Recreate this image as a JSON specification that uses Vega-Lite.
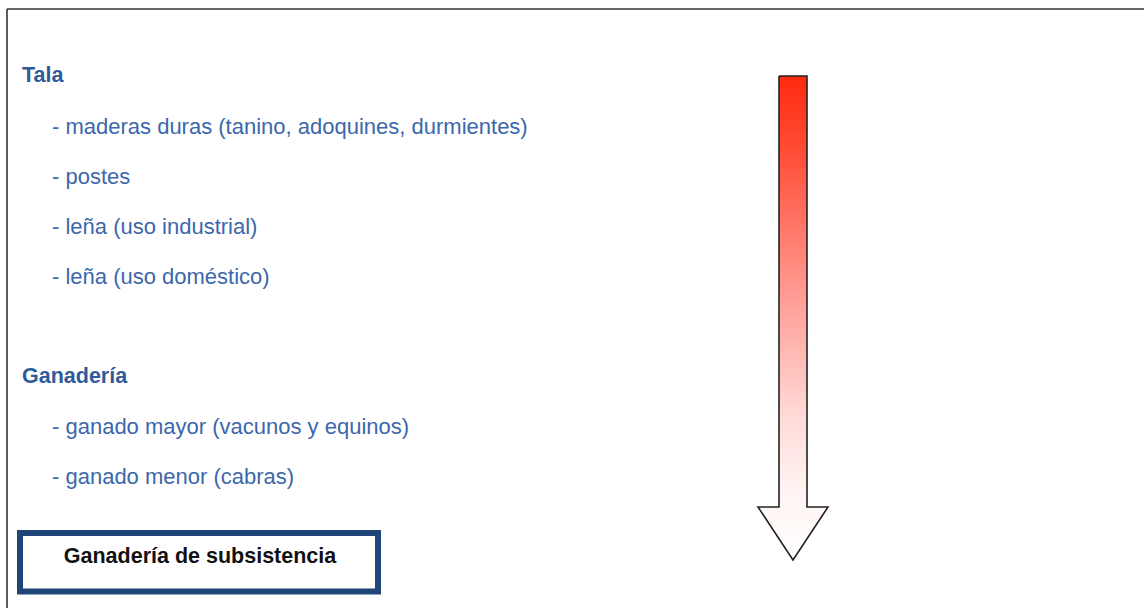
{
  "$schema": "https://vega.github.io/schema/vega-lite/v6.json",
  "width": 1144,
  "height": 608,
  "autosize": "none",
  "padding": 0,
  "background": "white",
  "config": {"view": {"stroke": null}},
  "datasets": {
    "frame": [
      {"x": 7, "y": 9, "x2": 7, "y2": 608},
      {"x": 7, "y": 9, "x2": 1144, "y2": 9}
    ],
    "heads": [
      {"x": 22, "y": 76, "label": "Tala"},
      {"x": 22, "y": 377, "label": "Ganadería"}
    ],
    "items": [
      {"x": 52, "y": 127, "label": "- maderas duras (tanino, adoquines, durmientes)"},
      {"x": 52, "y": 177, "label": "- postes"},
      {"x": 52, "y": 227, "label": "- leña (uso industrial)"},
      {"x": 52, "y": 277, "label": "- leña (uso doméstico)"},
      {"x": 52, "y": 427, "label": "- ganado mayor (vacunos y equinos)"},
      {"x": 52, "y": 477, "label": "- ganado menor (cabras)"}
    ],
    "box": [
      {"x": 20, "x2": 378, "y": 533, "y2": 591.5, "label": "Ganadería de subsistencia", "cx": 200, "cy": 557}
    ],
    "arrow": [
      {"i": 1, "x": 779, "y": 76},
      {"i": 2, "x": 779, "y": 507},
      {"i": 3, "x": 758, "y": 507},
      {"i": 4, "x": 793, "y": 560},
      {"i": 5, "x": 828, "y": 507},
      {"i": 6, "x": 807, "y": 507},
      {"i": 7, "x": 807, "y": 76},
      {"i": 8, "x": 779, "y": 76}
    ]
  },
  "layer": [
    {
      "data": {"name": "frame"},
      "mark": {"type": "rule", "color": "#333333", "strokeWidth": 1.6},
      "encoding": {
        "x": {"field": "x", "type": "quantitative", "scale": {"domain": [0, 1144]}, "axis": null},
        "y": {"field": "y", "type": "quantitative", "scale": {"domain": [0, 608], "reverse": true}, "axis": null},
        "x2": {"field": "x2"},
        "y2": {"field": "y2"}
      }
    },
    {
      "data": {"name": "arrow"},
      "mark": {
        "type": "line",
        "stroke": "#222222",
        "strokeWidth": 1.6,
        "strokeJoin": "miter",
        "fill": {
          "gradient": "linear",
          "x1": 0, "y1": 0, "x2": 0, "y2": 1,
          "stops": [
            {"offset": 0, "color": "#ff2a0e"},
            {"offset": 0.15, "color": "#ff4c35"},
            {"offset": 0.45, "color": "#ff9b93"},
            {"offset": 0.7, "color": "#ffd9d6"},
            {"offset": 0.85, "color": "#fff3f2"},
            {"offset": 1, "color": "#ffffff"}
          ]
        }
      },
      "encoding": {
        "x": {"field": "x", "type": "quantitative", "scale": {"domain": [0, 1144]}, "axis": null},
        "y": {"field": "y", "type": "quantitative", "scale": {"domain": [0, 608], "reverse": true}, "axis": null},
        "order": {"field": "i", "type": "quantitative"}
      }
    },
    {
      "data": {"name": "heads"},
      "mark": {"type": "text", "align": "left", "baseline": "middle", "font": "Liberation Sans", "fontSize": 21.5, "fontWeight": "bold", "color": "#2f5b9a"},
      "encoding": {
        "x": {"field": "x", "type": "quantitative", "scale": {"domain": [0, 1144]}, "axis": null},
        "y": {"field": "y", "type": "quantitative", "scale": {"domain": [0, 608], "reverse": true}, "axis": null},
        "text": {"field": "label"}
      }
    },
    {
      "data": {"name": "items"},
      "mark": {"type": "text", "align": "left", "baseline": "middle", "font": "Liberation Sans", "fontSize": 22, "color": "#3c67ab"},
      "encoding": {
        "x": {"field": "x", "type": "quantitative", "scale": {"domain": [0, 1144]}, "axis": null},
        "y": {"field": "y", "type": "quantitative", "scale": {"domain": [0, 608], "reverse": true}, "axis": null},
        "text": {"field": "label"}
      }
    },
    {
      "data": {"name": "box"},
      "mark": {"type": "rect", "fill": "white", "stroke": "#1f4678", "strokeWidth": 6},
      "encoding": {
        "x": {"field": "x", "type": "quantitative", "scale": {"domain": [0, 1144]}, "axis": null},
        "x2": {"field": "x2"},
        "y": {"field": "y", "type": "quantitative", "scale": {"domain": [0, 608], "reverse": true}, "axis": null},
        "y2": {"field": "y2"}
      }
    },
    {
      "data": {"name": "box"},
      "mark": {"type": "text", "align": "center", "baseline": "middle", "font": "Liberation Sans", "fontSize": 21.5, "fontWeight": "bold", "color": "#111111"},
      "encoding": {
        "x": {"field": "cx", "type": "quantitative", "scale": {"domain": [0, 1144]}, "axis": null},
        "y": {"field": "cy", "type": "quantitative", "scale": {"domain": [0, 608], "reverse": true}, "axis": null},
        "text": {"field": "label"}
      }
    }
  ]
}
